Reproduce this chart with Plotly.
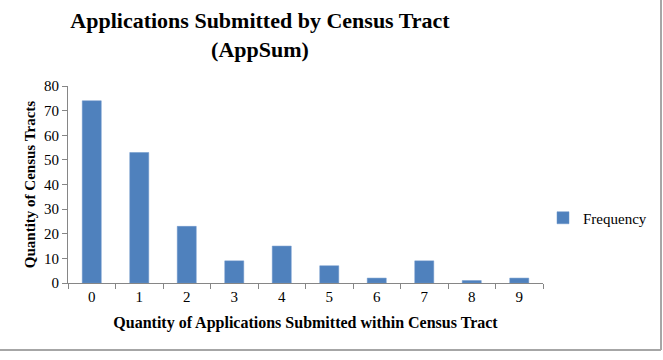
import plotly.graph_objects as go

categories = ["0", "1", "2", "3", "4", "5", "6", "7", "8", "9"]
frequency = [74, 53, 23, 9, 15, 7, 2, 9, 1, 2]
y_ticks = [0, 10, 20, 30, 40, 50, 60, 70, 80]

W, H = 663, 360
L, R, T, B = 68, 120, 86, 77
pw, ph = W - L - R, H - T - B

FONT = "Liberation Serif"

fig = go.Figure()
fig.add_trace(go.Bar(
    x=categories, y=frequency, name="Frequency",
    marker=dict(color="#4F81BD", line=dict(color="#6A95CB", width=0.5)),
    width=0.4,
))

def px_x(px):
    return (px - L) / pw

def px_y(py):
    return (H - B - py) / ph

fig.update_layout(
    width=W, height=H,
    margin=dict(l=L, r=R, t=T, b=B, autoexpand=False),
    paper_bgcolor="white", plot_bgcolor="white",
    font=dict(family=FONT, size=15, color="black"),
    title=dict(
        text="Applications Submitted by Census Tract<br>(AppSum)",
        font=dict(family=FONT, size=22, weight="bold", color="black"),
        x=px_x(260), xref="paper", xanchor="center",
        y=1 - 28 / H, yref="container", yanchor="middle",
    ),
    showlegend=True,
    legend=dict(
        x=px_x(543), y=px_y(218), xanchor="left", yanchor="middle",
        font=dict(family=FONT, size=15), bgcolor="rgba(0,0,0,0)",
        itemwidth=30,
    ),
    xaxis=dict(
        type="category",
        showline=True, linecolor="#868686", linewidth=1,
        ticks="outside", tickson="boundaries", ticklen=5, tickcolor="#868686",
        showgrid=False, zeroline=False,
        tickfont=dict(family=FONT, size=15),
        title=dict(text="Quantity of Applications Submitted within Census Tract",
                   font=dict(family=FONT, size=16, weight="bold"), standoff=12),
    ),
    yaxis=dict(
        range=[0, 80], tickvals=y_ticks,
        showline=True, linecolor="#868686", linewidth=1,
        ticks="outside", ticklen=5, tickcolor="#868686",
        showgrid=False, zeroline=False,
        tickfont=dict(family=FONT, size=15),
        title=dict(text="Quantity of Census Tracts",
                   font=dict(family=FONT, size=15, weight="bold"), standoff=4),
    ),
    bargap=0.6,
)

# chart border (right and bottom visible in reference)
fig.add_shape(type="line", xref="paper", yref="paper",
              x0=px_x(661), x1=px_x(661), y0=px_y(-5), y1=px_y(350),
              line=dict(color="#A6A6A6", width=2))
fig.add_shape(type="line", xref="paper", yref="paper",
              x0=px_x(-5), x1=px_x(661), y0=px_y(350), y1=px_y(350),
              line=dict(color="#A6A6A6", width=2))

fig.write_html("out.html")
